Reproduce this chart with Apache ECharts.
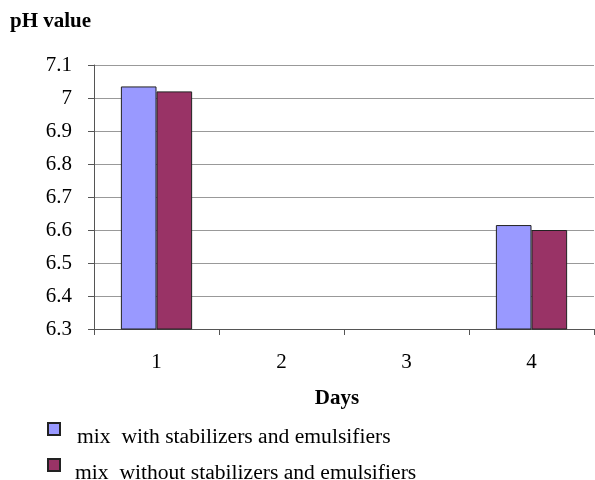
<!DOCTYPE html>
<html>
<head>
<meta charset="utf-8">
<script src="https://cdn.jsdelivr.net/npm/echarts@6/dist/echarts.min.js"></script>
<style>html,body{margin:0;padding:0;background:#fff;}#c{width:595px;height:480px;}</style>
</head>
<body>
<div id="c"></div>
<script>
const categories = ['1', '2', '3', '4'];
const withStab = [7.035, null, null, 6.615];
const withoutStab = [7.02, null, null, 6.60];
const seriesNames = ['mix  with stabilizers and emulsifiers', 'mix  without stabilizers and emulsifiers'];

const FONT = '"Liberation Serif", "Times New Roman", serif';
const legendBase = {
  orient: 'vertical',
  padding: 0,
  itemWidth: 12, itemHeight: 28,
  icon: 'path://M0,0 L12,0 L12,12 L0,12 Z M0,28 L0,28'
};
const chart = echarts.init(document.getElementById('c'));
chart.setOption({
  animation: false,
  backgroundColor: '#fff',
  title: [
    { text: 'pH value', left: 10, top: 11, padding: 0, textStyle: { fontFamily: FONT, fontWeight: 'bold', fontSize: 21, color: '#000' } },
    { text: 'Days', left: 337, top: 388, padding: 0, textAlign: 'center', textStyle: { fontFamily: FONT, fontWeight: 'bold', fontSize: 21, color: '#000' } }
  ],
  legend: [
    Object.assign({}, legendBase, { left: 47, top: 422, data: [seriesNames[0]],
      textStyle: { fontFamily: FONT, fontSize: 21.6, color: '#000', padding: [0, 0, 0, 12] } }),
    Object.assign({}, legendBase, { left: 47, top: 458, data: [seriesNames[1]],
      textStyle: { fontFamily: FONT, fontSize: 21.6, color: '#000', padding: [0, 0, 0, 10] } })
  ],
  grid: { left: 94, right: 1, top: 65, bottom: 151 },
  xAxis: {
    type: 'category',
    data: categories,
    axisLine: { lineStyle: { color: '#555', width: 1 } },
    axisTick: { show: true, length: 6, lineStyle: { color: '#555' } },
    axisLabel: { fontFamily: FONT, fontSize: 21, color: '#000', margin: 23 }
  },
  yAxis: {
    type: 'value',
    min: 6.3, max: 7.1, interval: 0.1,
    axisLine: { show: true, lineStyle: { color: '#555', width: 1 } },
    axisTick: { show: true, length: 6, lineStyle: { color: '#555' } },
    axisLabel: { fontFamily: FONT, fontSize: 21, color: '#000', margin: 22,
      formatter: v => String(Math.round(v * 10) / 10) },
    splitLine: { show: true, lineStyle: { color: '#999', width: 1 } }
  },
  series: [
    { name: seriesNames[0], type: 'bar', data: withStab, barGap: '0%', barCategoryGap: '43%',
      itemStyle: { color: '#9999FF', borderColor: '#222', borderWidth: 1 } },
    { name: seriesNames[1], type: 'bar', data: withoutStab,
      itemStyle: { color: '#993366', borderColor: '#222', borderWidth: 1 } }
  ]
});
</script>
</body>
</html>
